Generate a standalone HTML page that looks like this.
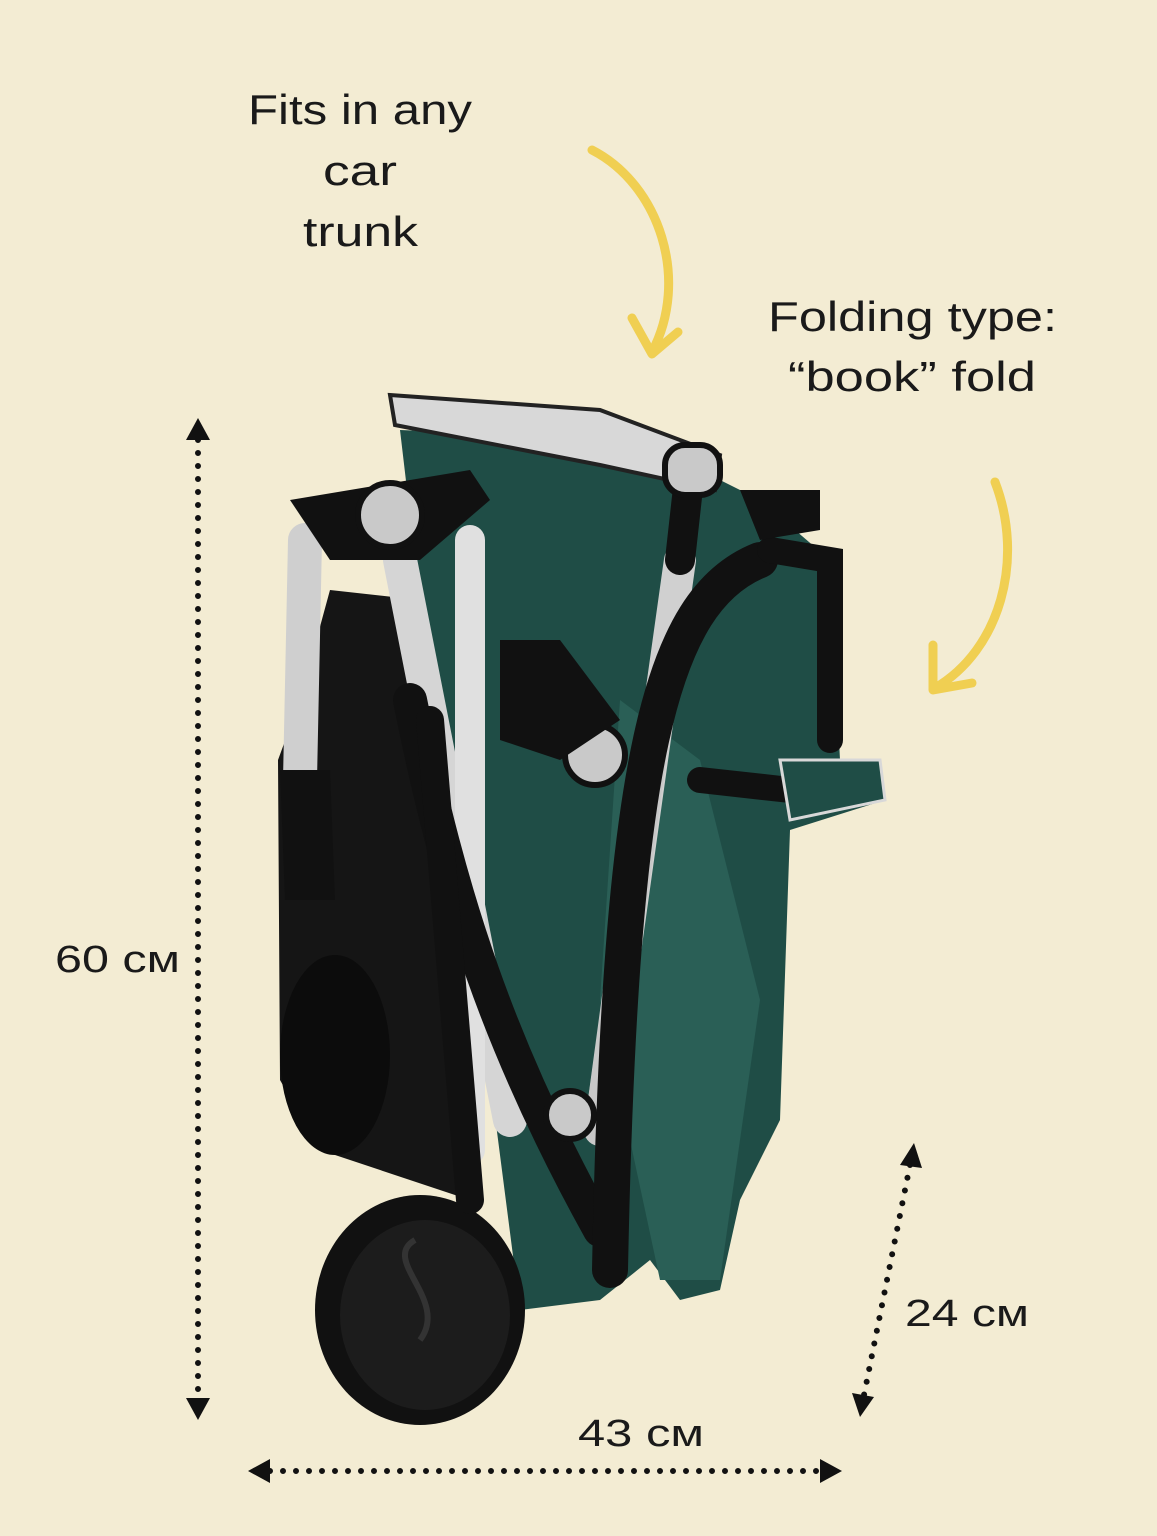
<!DOCTYPE html>
<html><head><meta charset="utf-8"><style>
html,body{margin:0;padding:0;background:#f3ecd3;}
svg{display:block}
text{font-family:"Liberation Sans",sans-serif;fill:#1a1a1a}
</style></head><body>
<svg width="1157" height="1536" viewBox="0 0 1157 1536" xmlns="http://www.w3.org/2000/svg">
<rect width="1157" height="1536" fill="#f3ecd3"/>
<g font-size="42">
<text x="248" y="124" textLength="224" lengthAdjust="spacingAndGlyphs">Fits in any</text>
<text x="323" y="185" textLength="74" lengthAdjust="spacingAndGlyphs">car</text>
<text x="303" y="246" textLength="115" lengthAdjust="spacingAndGlyphs">trunk</text>
<text x="768" y="331" textLength="289" lengthAdjust="spacingAndGlyphs">Folding type:</text>
<text x="788" y="391" textLength="248" lengthAdjust="spacingAndGlyphs">“book” fold</text>
</g>
<g font-size="38">
<text x="55" y="972" textLength="125" lengthAdjust="spacingAndGlyphs">60 см</text>
<text x="578" y="1446" textLength="126" lengthAdjust="spacingAndGlyphs">43 см</text>
<text x="905" y="1326" textLength="124" lengthAdjust="spacingAndGlyphs">24 см</text>
</g>
<g stroke="#f0cf52" stroke-width="9" fill="none" stroke-linecap="round" stroke-linejoin="round">
<path d="M592 150 C660 185 690 280 652 352"/>
<path d="M632 318 L652 354 L678 332"/>
<path d="M995 482 C1025 560 1000 650 935 688"/>
<path d="M933 645 L933 690 L972 683"/>
</g>
<g stroke="#111" stroke-width="6" stroke-linecap="round" stroke-dasharray="0 13" fill="none">
<line x1="198" y1="440" x2="198" y2="1400"/>
<line x1="270" y1="1471" x2="820" y2="1471"/>
<line x1="910" y1="1165" x2="864" y2="1395"/>
</g>
<g fill="#111">
<path d="M198 418 L186 440 L210 440Z"/>
<path d="M198 1420 L186 1398 L210 1398Z"/>
<path d="M248 1471 L270 1459 L270 1483Z"/>
<path d="M842 1471 L820 1459 L820 1483Z"/>
<path d="M914 1143 L900 1165 L922 1168Z"/>
<path d="M860 1417 L852 1393 L874 1397Z"/>
</g>
<path d="M400 430 L640 440 L760 500 L830 560 L840 760 L880 760 L885 800 L790 830 L780 1120 L740 1200 L720 1290 L680 1300 L650 1260 L600 1300 L520 1310 L480 1000 L420 600 Z" fill="#1f4d46"/>
<path d="M620 700 L700 760 L760 1000 L720 1280 L660 1280 L600 1000 Z" fill="#2a5f56"/>
<path d="M330 590 L420 600 L470 1000 L470 1200 L320 1150 L280 1080 L278 760 L300 700 Z" fill="#151515"/>
<ellipse cx="335" cy="1055" rx="55" ry="100" fill="#0c0c0c"/>
<ellipse cx="420" cy="1310" rx="105" ry="115" fill="#111"/>
<ellipse cx="425" cy="1315" rx="85" ry="95" fill="#1c1c1c"/>
<path d="M415 1240 C380 1260 450 1300 420 1340" stroke="#333" stroke-width="6" fill="none"/>
<path d="M390 395 L600 410 L720 455 L715 490 L600 465 L395 425Z" fill="#d8d8d8" stroke="#222" stroke-width="4"/>
<g stroke-linecap="round">
<line x1="305" y1="540" x2="300" y2="780" stroke="#cfcfcf" stroke-width="34"/>
<line x1="400" y1="560" x2="510" y2="1120" stroke="#d5d5d5" stroke-width="34"/>
<line x1="470" y1="540" x2="470" y2="1150" stroke="#e0e0e0" stroke-width="30"/>
<line x1="680" y1="560" x2="600" y2="1130" stroke="#d0d0d0" stroke-width="32"/>
<line x1="650" y1="760" x2="600" y2="1130" stroke="#c8c8c8" stroke-width="32"/>
</g>
<g stroke="#111" stroke-linecap="round" fill="none">
<path d="M410 700 C450 900 500 1050 600 1230" stroke-width="34"/>
<path d="M760 560 C660 600 620 760 610 1270" stroke-width="36"/>
<path d="M770 550 L830 560 L830 740" stroke-width="26"/>
<path d="M700 780 L790 790" stroke-width="26"/>
<line x1="430" y1="720" x2="470" y2="1200" stroke-width="28"/>
<line x1="690" y1="470" x2="680" y2="560" stroke-width="30"/>
</g>
<path d="M290 500 L470 470 L490 500 L420 560 L330 560 Z" fill="#111"/>
<path d="M740 490 L820 490 L820 530 L760 540Z" fill="#111"/>
<path d="M280 770 L330 770 L335 900 L285 900Z" fill="#111"/>
<g fill="#c9c9c9" stroke="#111" stroke-width="6">
<circle cx="390" cy="515" r="32"/>
<circle cx="595" cy="755" r="30"/>
<circle cx="570" cy="1115" r="24"/>
<rect x="665" y="445" width="55" height="50" rx="20"/>
</g>
<path d="M500 640 L560 640 L620 720 L560 760 L500 740Z" fill="#111"/>
<path d="M780 760 L880 760 L885 800 L790 820Z" fill="#1f4d46" stroke="#d8d8d8" stroke-width="3"/>
</svg>
</body></html>
